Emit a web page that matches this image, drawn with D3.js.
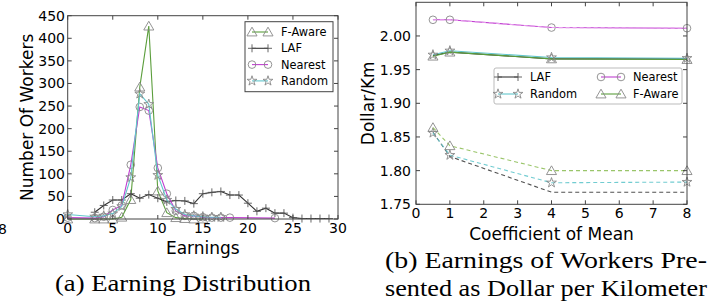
<!DOCTYPE html>
<html><head><meta charset="utf-8">
<script src="https://cdn.jsdelivr.net/npm/d3@7"></script>
<style>
body{margin:0;background:#fff;}
svg{display:block;}
text{font-family:"DejaVu Sans",sans-serif;fill:#000;}
.cap{font-family:"Liberation Serif",serif;}
</style></head><body>
<svg id="c" width="711" height="308"></svg>
<script>
// ---------- data: (a) Earning Distribution ----------
const fawareX = [0,3,4,5,6,7,8,9,10,11,12,13,14,15];
const fawareY = [0,0,0,0,4,43,292,427,62,14,3,1,0,0];
const lafX = [3,4,5,6,7,8,9,10,11,12,13,14,15,16,17,18,19,20,21,22,23,24,25,26,27,28,29];
const lafY = [15,30,42,42,56,46,54,46,38,41,40,34,56,59,61,53,53,35,17,24,13,13,3,1,1,1,1];
const nearestX = [0,3,4,5,6,7,8,9,10,11,12,13,14,15,16,17,18,23];
const nearestY = [3,2,5,20,30,120,248,240,113,56,18,7,7,4,3,3,3,2];
const randomX = [0,3,4,5,6,7,8,9,10,11,12,13,14,15,16,17];
const randomY = [10,5,7,12,28,92,277,254,97,42,22,10,7,5,4,4];
const earnTicksX = [0,5,10,15,20,25,30];
const earnTicksY = [0,50,100,150,200,250,300,350,400,450];

// ---------- data: (b) Dollar per Kilometer ----------
const coefX = [0.5,1,4,8];
const nearestSolid = [2.024,2.024,2.0125,2.0115];
const randomSolid  = [1.972,1.978,1.968,1.967];
const fawareSolid  = [1.970,1.976,1.966,1.965];
const lafSolid     = [1.971,1.976,1.966,1.966];
const nearestDash  = [2.024,2.024,2.0125,2.0115];
const randomDash   = [1.856,1.823,1.782,1.783];
const fawareDash   = [1.864,1.837,1.800,1.800];
const lafDash      = [1.857,1.821,1.768,1.768];
const coefTicksX = [0,1,2,3,4,5,6,7,8];
const coefTicksY = [1.75,1.80,1.85,1.90,1.95,2.00];

const C = {faware:"#5b9e3c", laf:"#333333", nearest:"#c040d0", random:"#62c6cc"};
const MK = "#888";

const svg = d3.select("#c");

function marker(g, type, x, y, size){
  if(type==="plus"){
    g.append("path").attr("d",`M${x-4},${y}H${x+4}M${x},${y-4}V${y+4}`).attr("stroke","#555").attr("stroke-width",0.9).attr("fill","none");
    return;
  }
  const sym = {tri:d3.symbolTriangle, circ:d3.symbolCircle, star:d3.symbolStar}[type];
  const sz = size || {tri:44, circ:46, star:30}[type];
  g.append("path").attr("d", d3.symbol().type(sym).size(sz)())
    .attr("transform",`translate(${x},${type==="tri"?y+1:y})`)
    .attr("fill","none").attr("stroke",MK).attr("stroke-width",0.9);
}

function frame(g, x, y, xTicks, yTicks){
  const [x0,x1] = x.range(), [y0,y1] = y.range();
  const ax = g.append("g");
  xTicks.forEach(t=>{
    ax.append("line").attr("x1",x(t)).attr("x2",x(t)).attr("y1",y0).attr("y2",y0-4).attr("stroke","#444");
    ax.append("line").attr("x1",x(t)).attr("x2",x(t)).attr("y1",y1).attr("y2",y1+4).attr("stroke","#444");
  });
  yTicks.forEach(t=>{
    ax.append("line").attr("x1",x0).attr("x2",x0+4).attr("y1",y(t)).attr("y2",y(t)).attr("stroke","#444");
    ax.append("line").attr("x1",x1).attr("x2",x1-4).attr("y1",y(t)).attr("y2",y(t)).attr("stroke","#444");
  });
  ax.append("rect").attr("x",x0).attr("y",y1).attr("width",x1-x0).attr("height",y0-y1)
    .attr("fill","none").attr("stroke","#444").attr("stroke-width",1);
}

// ================= (a) =================
{
  const x = d3.scaleLinear().domain([0,30]).range([67.7,338]);
  const y = d3.scaleLinear().domain([0,450]).range([219,15.7]);
  const g = svg.append("g");
  svg.append("clipPath").attr("id","clipA").append("rect").attr("x",63).attr("y",10).attr("width",280).attr("height",214);
  const line = d3.line().x(d=>x(d[0])).y(d=>y(d[1]));
  const series = [
    {xs:fawareX, ys:fawareY, c:C.faware, m:"tri"},
    {xs:lafX, ys:lafY, c:C.laf, m:"plus"},
    {xs:nearestX, ys:nearestY, c:C.nearest, m:"circ"},
    {xs:randomX, ys:randomY, c:C.random, m:"star"}
  ];
  const pg = g.append("g").attr("clip-path","url(#clipA)");
  series.forEach(s=>{
    const pts = s.xs.map((v,i)=>[v,s.ys[i]]);
    pg.append("path").attr("d",line(pts)).attr("fill","none").attr("stroke",s.c).attr("stroke-width",1.1);
    pts.forEach(p=>marker(pg, s.m, x(p[0]), y(p[1])));
  });
  frame(g, x, y, earnTicksX, earnTicksY);
  earnTicksX.forEach(t=>g.append("text").attr("x",x(t)).attr("y",233).attr("text-anchor","middle").style("font-size","14px").text(t));
  earnTicksY.forEach(t=>g.append("text").attr("x",65).attr("y",y(t)+5).attr("text-anchor","end").style("font-size","14px").text(t));
  g.append("text").attr("x",x(15)).attr("y",254).attr("text-anchor","middle").style("font-size","17px").text("Earnings");
  g.append("text").attr("transform",`translate(33,${y(225)}) rotate(-90)`).attr("text-anchor","middle").style("font-size","17px").text("Number Of Workers");
  const lg = g.append("g");
  lg.append("rect").attr("x",245).attr("y",21.7).attr("width",88).attr("height",70).attr("fill","#fff").attr("stroke","#444");
  series.forEach((s,i)=>{
    const yy = 32 + i*16.3;
    lg.append("line").attr("x1",252).attr("x2",268).attr("y1",yy).attr("y2",yy).attr("stroke",s.c).attr("stroke-width",1.1);
    marker(lg, s.m, 252, yy); marker(lg, s.m, 268, yy);
    lg.append("text").attr("x",281).attr("y",yy+4).style("font-size","11.4px").text(["F-Aware","LAF","Nearest","Random"][i]);
  });
  g.append("text").attr("x",-2).attr("y",234).style("font-size","14px").text("8");
}

// ================= (b) =================
{
  const x = d3.scaleLinear().domain([0,8]).range([416,687]);
  const y = d3.scaleLinear().domain([1.75,2.05]).range([204.3,2.3]);
  const g = svg.append("g");
  const line = d3.line().x(d=>x(d[0])).y(d=>y(d[1]));
  const draw = (ys, c, m, dash, op)=>{
    const pts = coefX.map((v,i)=>[v,ys[i]]);
    g.append("path").attr("d",line(pts)).attr("fill","none").attr("stroke",c).attr("stroke-width",1.1)
      .attr("stroke-dasharray",dash?"4,3":null).attr("opacity",op||1);
    if(m) pts.forEach(p=>marker(g, m, x(p[0]), y(p[1])));
  };
  draw(lafDash, C.laf, null, true, 0.85);
  draw(randomDash, C.random, "star", true, 0.9);
  draw(fawareDash, "#8fbf5a", "tri", true, 0.9);
  draw(lafSolid, C.laf, null, false);
  draw(randomSolid, C.random, "star", false);
  draw(fawareSolid, C.faware, "tri", false);
  draw(nearestSolid, C.nearest, "circ", false);
  draw(nearestDash, "#e8a0ee", null, true);
  frame(g, x, y, coefTicksX, coefTicksY);
  coefTicksX.forEach(t=>g.append("text").attr("x",x(t)).attr("y",218).attr("text-anchor","middle").style("font-size","14px").text(t));
  coefTicksY.forEach(t=>g.append("text").attr("x",411).attr("y",y(t)+5).attr("text-anchor","end").style("font-size","14px").text(t.toFixed(2)));
  g.append("text").attr("x",x(4)).attr("y",240).attr("text-anchor","middle").style("font-size","17px").text("Coefficient of Mean");
  g.append("text").attr("transform",`translate(374,${(204.3+2.3)/2}) rotate(-90)`).attr("text-anchor","middle").style("font-size","17px").text("Dollar/Km");
  const lg = g.append("g");
  lg.append("rect").attr("x",494).attr("y",68).attr("width",188).attr("height",36).attr("rx",2).attr("fill","#fff").attr("stroke","#bbb");
  const items = [
    {n:"LAF", c:C.laf, m:"plus", lx:498, ty:77},
    {n:"Nearest", c:C.nearest, m:"circ", lx:601, ty:77},
    {n:"Random", c:C.random, m:"star", lx:498, ty:94},
    {n:"F-Aware", c:C.faware, m:"tri", lx:601, ty:94}
  ];
  items.forEach(it=>{
    lg.append("line").attr("x1",it.lx).attr("x2",it.lx+20).attr("y1",it.ty).attr("y2",it.ty).attr("stroke",it.c).attr("stroke-width",1.1);
    marker(lg, it.m, it.lx, it.ty); marker(lg, it.m, it.lx+20, it.ty);
    lg.append("text").attr("x",it.lx+32).attr("y",it.ty+4).style("font-size","11.4px").text(it.n);
  });
}

// ================= captions =================
svg.append("text").attr("class","cap").attr("x",55).attr("y",291).attr("textLength",256).attr("lengthAdjust","spacingAndGlyphs").style("font-size","23px").text("(a) Earning Distribution");
svg.append("text").attr("class","cap").attr("x",385).attr("y",268).attr("textLength",322).attr("lengthAdjust","spacingAndGlyphs").style("font-size","23px").text("(b) Earnings of Workers Pre-");
svg.append("text").attr("class","cap").attr("x",385).attr("y",296).attr("textLength",322).attr("lengthAdjust","spacingAndGlyphs").style("font-size","23px").text("sented as Dollar per Kilometer");
</script>
</body></html>
